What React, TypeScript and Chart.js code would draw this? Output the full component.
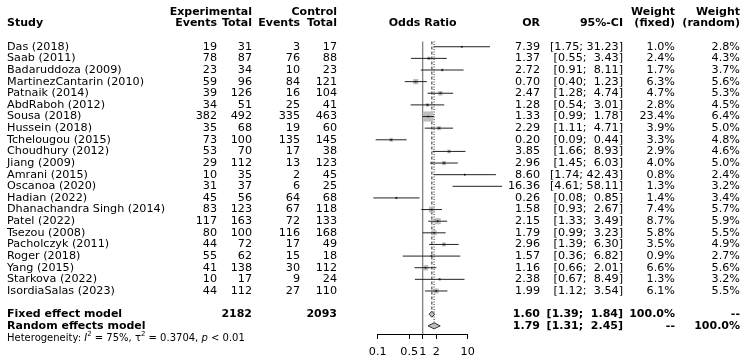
import React, { useEffect, useRef } from 'react';
import { Chart, registerables } from 'chart.js';

Chart.register(...registerables);

// ---------- data ----------
const studies = [
  'Das (2018)', 'Saab (2011)', 'Badaruddoza (2009)', 'MartinezCantarin (2010)', 'Patnaik (2014)',
  'AbdRaboh (2012)', 'Sousa (2018)', 'Hussein (2018)', 'Tchelougou (2015)', 'Choudhury (2012)',
  'Jiang (2009)', 'Amrani (2015)', 'Oscanoa (2020)', 'Hadian (2022)', 'Dhanachandra Singh (2014)',
  'Patel (2022)', 'Tsezou (2008)', 'Pacholczyk (2011)', 'Roger (2018)', 'Yang (2015)',
  'Starkova (2022)', 'IsordiaSalas (2023)',
];
const expEvents = [19, 78, 23, 59, 39, 34, 382, 35, 73, 53, 29, 10, 31, 45, 83, 117, 80, 44, 55, 41, 10, 44];
const expTotal = [31, 87, 34, 96, 126, 51, 492, 68, 100, 70, 112, 35, 37, 56, 123, 163, 100, 72, 62, 138, 17, 112];
const ctrlEvents = [3, 76, 10, 84, 16, 25, 335, 19, 135, 17, 13, 2, 6, 64, 67, 72, 116, 17, 15, 30, 9, 27];
const ctrlTotal = [17, 88, 23, 121, 104, 41, 463, 60, 145, 38, 123, 45, 25, 68, 118, 133, 168, 49, 18, 112, 24, 110];
const oddsRatio = [7.39, 1.37, 2.72, 0.70, 2.47, 1.28, 1.33, 2.29, 0.20, 3.85, 2.96, 8.60, 16.36, 0.26, 1.58, 2.15, 1.79, 2.96, 1.57, 1.16, 2.38, 1.99];
const ciLower = [1.75, 0.55, 0.91, 0.40, 1.28, 0.54, 0.99, 1.11, 0.09, 1.66, 1.45, 1.74, 4.61, 0.08, 0.93, 1.33, 0.99, 1.39, 0.36, 0.66, 0.67, 1.12];
const ciUpper = [31.23, 3.43, 8.11, 1.23, 4.74, 3.01, 1.78, 4.71, 0.44, 8.93, 6.03, 42.43, 58.11, 0.85, 2.67, 3.49, 3.23, 6.30, 6.82, 2.01, 8.49, 3.54];
const weightFixed = [1.0, 2.4, 1.7, 6.3, 4.7, 2.8, 23.4, 3.9, 3.3, 2.9, 4.0, 0.8, 1.3, 1.4, 7.4, 8.7, 5.8, 3.5, 0.9, 6.6, 1.3, 6.1];
const weightRandom = [2.8, 4.3, 3.7, 5.6, 5.3, 4.5, 6.4, 5.0, 4.8, 4.6, 5.0, 2.4, 3.2, 3.4, 5.7, 5.9, 5.5, 4.9, 2.7, 5.6, 3.2, 5.5];

const summaryLabels = ['Fixed effect model', 'Random effects model'];
const summaryOR = [1.60, 1.79];
const summaryLower = [1.39, 1.31];
const summaryUpper = [1.84, 2.45];
const summaryWeightFixed = ['100.0%', '--'];
const summaryWeightRandom = ['--', '100.0%'];
const totalExp = 2182;
const totalCtrl = 2093;
const hetI2 = '75%';
const hetTau2 = '0.3704';
const hetP = '< 0.01';
const xTicks = [0.1, 0.5, 1, 2, 10];

// ---------- layout ----------
const W = 748;
const H = 360;
const Y_MIN = -1.44;
const Y_MAX = 24.7;
const ROW_TOP = -0.45;
const FONT = '"DejaVu Sans", "Liberation Sans", sans-serif';
const REG = 11.2;
const BOLD = 11;
const COL = {
  study: 7,
  expEv: 217,
  expTot: 252,
  ctrlEv: 300,
  ctrlTot: 337,
  or: 540,
  ci: 623,
  wF: 675,
  wR: 740,
};

const fmtCI = (lo: number, hi: number) => {
  const b = hi.toFixed(2).padStart(5, ' ');
  return `[${lo.toFixed(2)}; ${b}]`;
};

const textPlugin = {
  id: 'forestText',
  afterDraw(chart: any) {
    const { ctx } = chart;
    const ys = chart.scales.y;
    const xs = chart.scales.x;
    const rowY = (r: number) => ys.getPixelForValue(r);
    ctx.save();
    ctx.fillStyle = '#000';
    ctx.textBaseline = 'middle';
    const put = (t: string, px: number, r: number, align: CanvasTextAlign, bold = false) => {
      ctx.font = bold ? `bold ${BOLD}px ${FONT}` : `${REG}px ${FONT}`;
      ctx.textAlign = align;
      ctx.fillText(t, px, rowY(r));
    };
    // headers
    put('Experimental', COL.expTot, -3, 'right', true);
    put('Control', COL.ctrlTot, -3, 'right', true);
    put('Weight', COL.wF, -3, 'right', true);
    put('Weight', COL.wR, -3, 'right', true);
    put('Study', COL.study, -2, 'left', true);
    put('Events', COL.expEv, -2, 'right', true);
    put('Total', COL.expTot, -2, 'right', true);
    put('Events', COL.ctrlEv, -2, 'right', true);
    put('Total', COL.ctrlTot, -2, 'right', true);
    put('Odds Ratio', xs.getPixelForValue(1), -2, 'center', true);
    put('OR', COL.or, -2, 'right', true);
    put('95%-CI', COL.ci, -2, 'right', true);
    put('(fixed)', COL.wF, -2, 'right', true);
    put('(random)', COL.wR, -2, 'right', true);

    studies.forEach((s, i) => {
      put(s, COL.study, i, 'left');
      put(String(expEvents[i]), COL.expEv, i, 'right');
      put(String(expTotal[i]), COL.expTot, i, 'right');
      put(String(ctrlEvents[i]), COL.ctrlEv, i, 'right');
      put(String(ctrlTotal[i]), COL.ctrlTot, i, 'right');
      put(oddsRatio[i].toFixed(2), COL.or, i, 'right');
      put(fmtCI(ciLower[i], ciUpper[i]), COL.ci, i, 'right');
      put(weightFixed[i].toFixed(1) + '%', COL.wF, i, 'right');
      put(weightRandom[i].toFixed(1) + '%', COL.wR, i, 'right');
    });

    summaryLabels.forEach((s, k) => {
      const r = studies.length + 1 + k;
      put(s, COL.study, r, 'left', true);
      if (k === 0) {
        put(String(totalExp), COL.expTot, r, 'right', true);
        put(String(totalCtrl), COL.ctrlTot, r, 'right', true);
      }
      put(summaryOR[k].toFixed(2), COL.or, r, 'right', true);
      put(fmtCI(summaryLower[k], summaryUpper[k]), COL.ci, r, 'right', true);
      put(summaryWeightFixed[k], COL.wF, r, 'right', true);
      put(summaryWeightRandom[k], COL.wR, r, 'right', true);
    });

    // heterogeneity line
    const hr = studies.length + 3.08;
    const hy = rowY(hr);
    let hx = COL.study;
    ctx.textAlign = 'left';
    const seg = (t: string, style: string, size: number, dy = 0) => {
      ctx.font = `${style}${size}px ${FONT}`;
      ctx.fillText(t, hx, hy + dy);
      hx += ctx.measureText(t).width;
    };
    seg('Heterogeneity: ', '', 10);
    seg('I', 'italic ', 10);
    seg('2', '', 7, -4);
    seg(` = ${hetI2}, `, '', 10);
    seg('\u03C4', '', 10);
    seg('2', '', 7, -4);
    seg(` = ${hetTau2}, `, '', 10);
    seg('p', 'italic ', 10);
    seg(` ${hetP}`, '', 10);
    ctx.restore();
  },
};

export default function App() {
  const ref = useRef<HTMLCanvasElement | null>(null);
  useEffect(() => {
    document.body.style.margin = '0';
    const canvas = ref.current;
    if (!canvas) return;
    const rows = studies.map((_, i) => i);
    const datasets: any[] = [];
    // line of no effect
    datasets.push({
      data: [{ x: 1, y: ROW_TOP }, { x: 1, y: Y_MAX }],
      showLine: true, borderColor: '#777', borderWidth: 1.2, pointRadius: 0, order: 7,
    });
    // summary reference lines
    datasets.push({
      data: [{ x: summaryOR[0], y: ROW_TOP }, { x: summaryOR[0], y: studies.length + 1 }],
      showLine: true, borderColor: '#222', borderWidth: 1, borderDash: [3, 2], pointRadius: 0, order: 7,
    });
    datasets.push({
      data: [{ x: summaryOR[1], y: ROW_TOP }, { x: summaryOR[1], y: studies.length + 2 }],
      showLine: true, borderColor: '#222', borderWidth: 1, borderDash: [1, 1.5], pointRadius: 0, order: 7,
    });
    // weight boxes
    datasets.push({
      data: rows.map((i) => ({ x: oddsRatio[i], y: i })),
      pointStyle: 'rect',
      pointRadius: weightFixed.map((w) => (2.1 * Math.sqrt(w)) / Math.SQRT2),
      backgroundColor: '#BEBEBE', borderWidth: 0, order: 5, clip: false,
    });
    // CI lines
    rows.forEach((i) => {
      datasets.push({
        data: [{ x: ciLower[i], y: i }, { x: ciUpper[i], y: i }],
        showLine: true, borderColor: '#222', borderWidth: 1, pointRadius: 0, clip: false, order: 4,
      });
    });
    // point estimates
    datasets.push({
      data: rows.map((i) => ({ x: oddsRatio[i], y: i })),
      pointStyle: 'rect', pointRadius: 1.1, backgroundColor: '#111', borderWidth: 0, order: 3, clip: false,
    });
    // diamonds
    summaryOR.forEach((v, k) => {
      const r = studies.length + 1 + k;
      datasets.push({
        data: [
          { x: summaryLower[k], y: r }, { x: v, y: r - 0.26 }, { x: summaryUpper[k], y: r },
          { x: v, y: r + 0.26 }, { x: summaryLower[k], y: r },
        ],
        showLine: true, fill: 'shape', backgroundColor: '#BEBEBE', borderColor: '#333',
        borderWidth: 1, pointRadius: 0, order: 2, clip: false,
      });
    });

    const chart = new Chart(canvas, {
      type: 'scatter',
      data: { datasets },
      options: {
        responsive: false,
        animation: false,
        events: [],
        layout: { padding: { left: 377.7, right: W - 467.7, top: 30, bottom: 0 } },
        plugins: { legend: { display: false }, tooltip: { enabled: false } },
        scales: {
          x: {
            type: 'logarithmic',
            min: xTicks[0],
            max: xTicks[xTicks.length - 1],
            afterBuildTicks: (s: any) => { s.ticks = xTicks.map((v) => ({ value: v })); },
            afterFit: (s: any) => { s.height = H - 334; },
            ticks: {
              callback: (v: any) => String(v),
              font: { family: FONT, size: 11.2 },
              color: '#000', padding: 6, maxRotation: 0, autoSkip: false,
            },
            grid: { drawOnChartArea: false, drawTicks: true, tickLength: 5, color: '#000' },
            border: { color: '#000', width: 1 },
          },
          y: { display: false, min: Y_MIN, max: Y_MAX, reverse: true },
        },
      } as any,
      plugins: [textPlugin],
    });
    return () => chart.destroy();
  }, []);
  return (
    <canvas
      ref={ref}
      width={W}
      height={H}
      style={{ display: 'block', position: 'absolute', left: 0, top: 0 }}
    />
  );
}
